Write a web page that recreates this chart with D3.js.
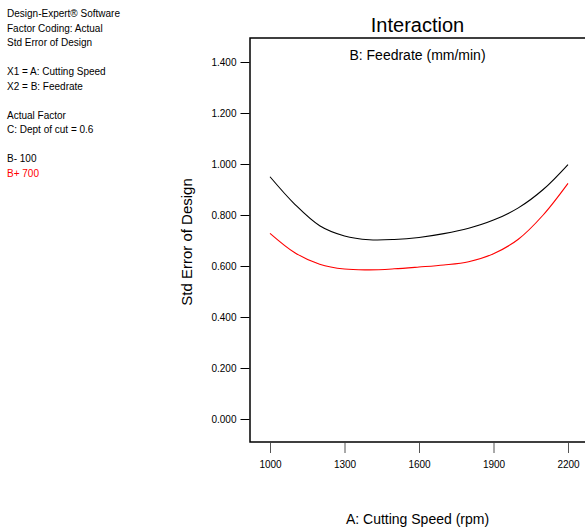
<!DOCTYPE html>
<html>
<head>
<meta charset="utf-8">
<script src="https://cdn.jsdelivr.net/npm/d3@7"></script>
<style>
  body { margin: 0; background: #fff; }
  text { font-family: "Liberation Sans", Arial, sans-serif; }
</style>
</head>
<body>
<div id="chart-area"></div>
<script>
const infoLines = [
  'Design-Expert® Software', 'Factor Coding: Actual', 'Std Error of Design', '',
  'X1 = A: Cutting Speed', 'X2 = B: Feedrate', '',
  'Actual Factor', 'C: Dept of cut = 0.6', ''
];
const seriesNames = ['B- 100', 'B+ 700'];
const seriesColors = ['#000000', '#ff0000'];
const speeds = [1000, 1100, 1200, 1300, 1400, 1500, 1600, 1700, 1800, 1900, 2000, 2100, 2200];
const lowFeed = [0.950, 0.842, 0.758, 0.718, 0.703, 0.704, 0.712, 0.727, 0.748, 0.780, 0.828, 0.900, 0.998];
const highFeed = [0.728, 0.652, 0.607, 0.588, 0.585, 0.589, 0.596, 0.604, 0.617, 0.648, 0.705, 0.800, 0.924];
const xTicks = [1000, 1300, 1600, 1900, 2200];
const yTicks = [0, 0.2, 0.4, 0.6, 0.8, 1.0, 1.2, 1.4];

const chartSize = { width: 585, height: 531 };
const plot = { left: 250, right: 586, top: 38, bottom: 442 };

const svg = d3.select('#chart-area').append('svg')
  .attr('width', chartSize.width)
  .attr('height', chartSize.height);

// info block on the left
svg.append('g').selectAll('text')
  .data(infoLines.concat(seriesNames))
  .join('text')
  .attr('x', 7)
  .attr('y', (d, i) => 17 + i * 14.5)
  .attr('font-size', 10)
  .attr('fill', (d, i) => i === infoLines.length + 1 ? seriesColors[1] : '#000')
  .text(d => d);

const x = d3.scaleLinear().domain([1000, 2200]).range([270, 568]);
const y = d3.scaleLinear().domain([0, 1.4]).range([419, 62]);

// frame
svg.append('path')
  .attr('d', `M${plot.right},${plot.top}H${plot.left}V${plot.bottom}H${plot.right}`)
  .attr('fill', 'none')
  .attr('stroke', '#000')
  .attr('stroke-width', 1.5);

const yAxis = d3.axisLeft(y).tickValues(yTicks).tickFormat(d3.format('.3f')).tickSize(9).tickPadding(4);
svg.append('g')
  .attr('transform', `translate(${plot.left - 0.5},0)`)
  .call(yAxis)
  .call(g => g.select('.domain').remove())
  .call(g => g.selectAll('text').attr('font-size', 10).attr('font-family', 'Liberation Sans, Arial, sans-serif'));

const xAxis = d3.axisBottom(x).tickValues(xTicks).tickFormat(d3.format('d')).tickSize(10).tickPadding(8);
svg.append('g')
  .attr('transform', `translate(0,${plot.bottom + 1})`)
  .call(xAxis)
  .call(g => g.select('.domain').remove())
  .call(g => g.selectAll('line').attr('stroke', '#555'))
  .call(g => g.selectAll('text').attr('font-size', 10).attr('font-family', 'Liberation Sans, Arial, sans-serif'));

const line = d3.line()
  .x((d, i) => x(speeds[i]))
  .y(d => y(d))
  .curve(d3.curveCatmullRom.alpha(0.5));

svg.append('g').selectAll('path')
  .data([lowFeed, highFeed])
  .join('path')
  .attr('d', line)
  .attr('fill', 'none')
  .attr('stroke', (d, i) => seriesColors[i])
  .attr('stroke-width', 1.1);

// titles
const cx = (plot.left + 585) / 2;
svg.append('text')
  .attr('x', cx).attr('y', 32)
  .attr('text-anchor', 'middle')
  .attr('font-size', 20)
  .text('Interaction');

svg.append('text')
  .attr('x', cx).attr('y', 60)
  .attr('text-anchor', 'middle')
  .attr('font-size', 14)
  .text('B: Feedrate (mm/min)');

svg.append('text')
  .attr('x', cx).attr('y', 524)
  .attr('text-anchor', 'middle')
  .attr('font-size', 14)
  .text('A: Cutting Speed (rpm)');

svg.append('text')
  .attr('transform', `translate(192,${(plot.top + plot.bottom) / 2 + 2}) rotate(-90)`)
  .attr('text-anchor', 'middle')
  .attr('font-size', 15)
  .text('Std Error of Design');
</script>
</body>
</html>
